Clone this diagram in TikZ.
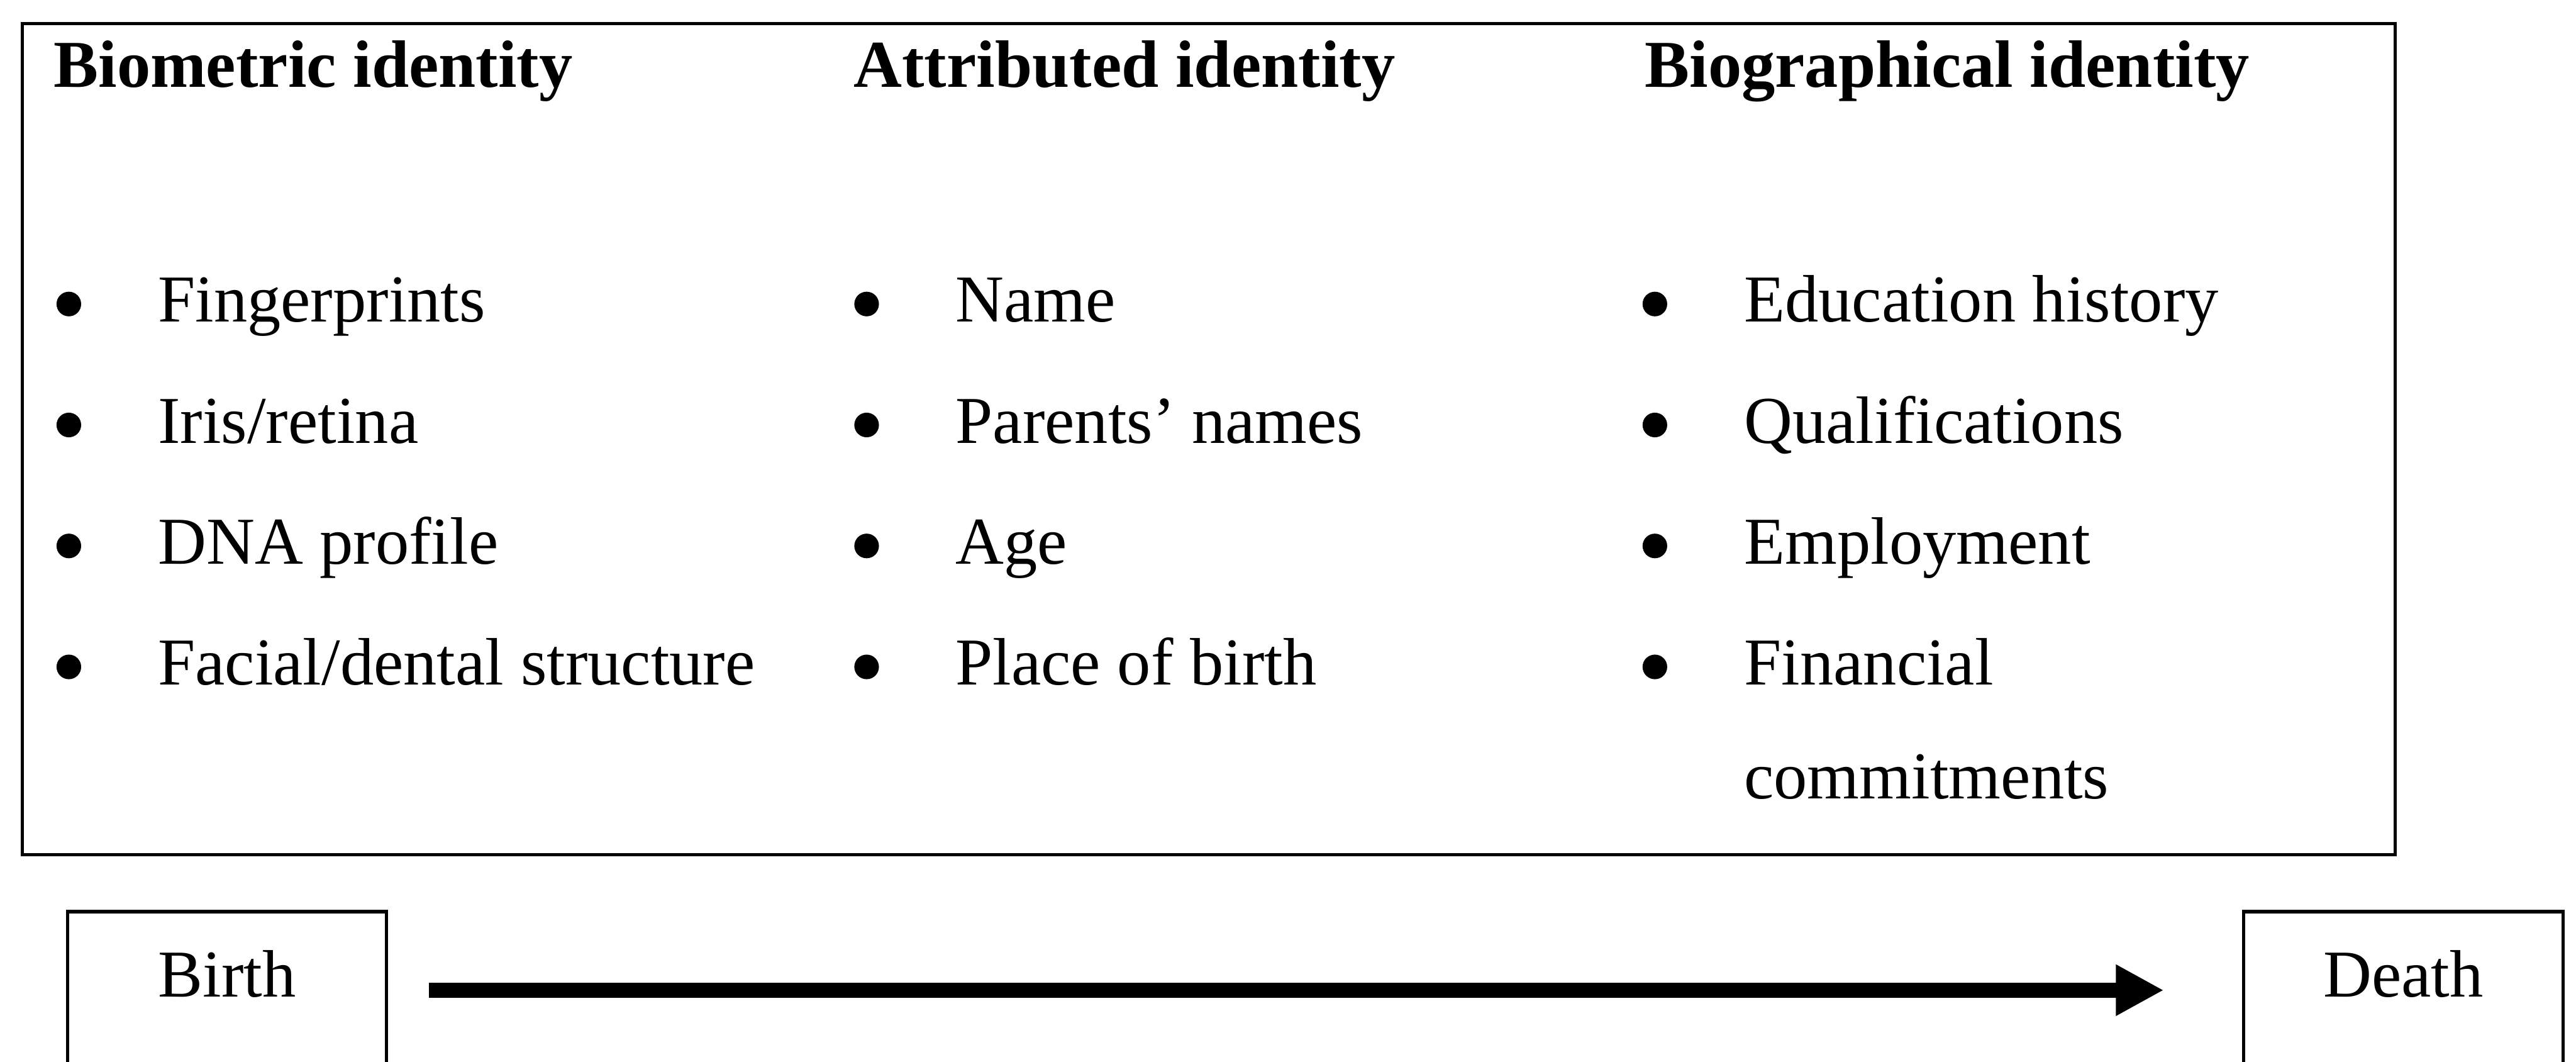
\documentclass[tikz,border=0pt]{standalone}
\usepackage{fontspec}
\setmainfont{Liberation Serif}
\usetikzlibrary{arrows.meta}

\tikzset{
  heading/.style={anchor=base west, inner sep=0pt, font=\fontsize{12}{14}\selectfont\bfseries},
  entry/.style={anchor=base west, inner sep=0pt, font=\fontsize{12}{14}\selectfont},
  dot/.style={circle, fill, inner sep=0pt, minimum size=0.155cm},
  stagebox/.style={draw, semithick, minimum width=2.01cm, inner xsep=0pt, inner ysep=0.24cm,
    text height=8.5pt, text depth=6pt, font=\fontsize{12}{14}\selectfont},
  lifearrow/.style={line width=2.75pt, -{Triangle[length=8.6pt,width=8.6pt]}}
}

\begin{document}
\begin{tikzpicture}[x=0.01034cm, y=-0.01034cm]
% Page size and the outer frame
\useasboundingbox (0,0) rectangle (1568,646);
\clip (0,0) rectangle (1568,646);
\draw[semithick] (13.5,14.5) rectangle (1458,520);

% Column headings
\node[heading] (biometric) at (32,53) {Biometric identity};
\node[heading] (attributed) at (519,53) {Attributed identity};
\node[heading] (biographical) at (1000.5,53) {Biographical identity};

% Biometric identity
\node[dot] (dotA1) at (41.9,185) {};
\node[entry] (fingerprints) at (95.5,196) {Fingerprints};
\node[dot] (dotA2) at (41.9,258.6) {};
\node[entry] (iris) at (95.5,269.6) {Iris/retina};
\node[dot] (dotA3) at (41.9,332.2) {};
\node[entry] (dna) at (95.5,343.2) {DNA profile};
\node[dot] (dotA4) at (41.9,405.8) {};
\node[entry] (facial) at (95.5,416.8) {Facial/dental structure};

% Attributed identity
\node[dot] (dotB1) at (527.5,185) {};
\node[entry] (name) at (581,196) {Name};
\node[dot] (dotB2) at (527.5,258.6) {};
\node[entry] (parents) at (581,269.6) {Parents’ names};
\node[dot] (dotB3) at (527.5,332.2) {};
\node[entry] (age) at (581,343.2) {Age};
\node[dot] (dotB4) at (527.5,405.8) {};
\node[entry] (place) at (581,416.8) {Place of birth};

% Biographical identity
\node[dot] (dotC1) at (1007.3,185) {};
\node[entry] (education) at (1061,196) {Education history};
\node[dot] (dotC2) at (1007.3,258.6) {};
\node[entry] (qualifications) at (1061,269.6) {Qualifications};
\node[dot] (dotC3) at (1007.3,332.2) {};
\node[entry] (employment) at (1061,343.2) {Employment};
\node[dot] (dotC4) at (1007.3,405.8) {};
\node[entry] (financial) at (1061,416.8) {Financial};
\node[entry] (commitments) at (1061,486) {commitments};

% Life line
\node[stagebox] (birth) at (138.2,602.5) {Birth};
\node[stagebox] (death) at (1462.9,602.5) {Death};
\draw[lifearrow, shorten <=0.254cm, shorten >=0.493cm] (birth.east) -- (death.west);
\end{tikzpicture}
\end{document}
